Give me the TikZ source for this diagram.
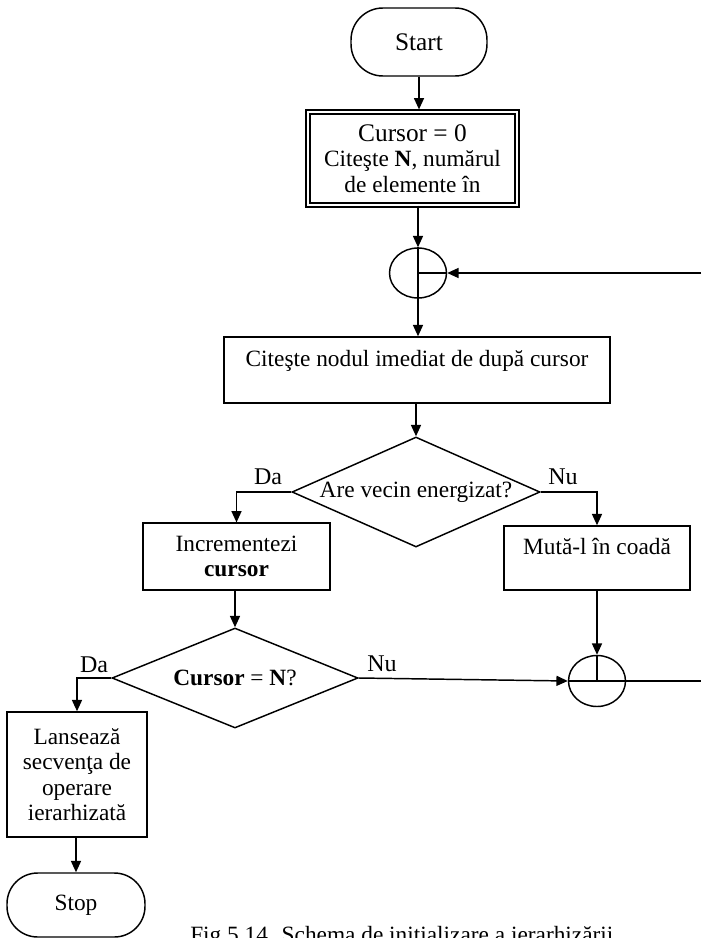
\documentclass[tikz,border=0pt]{standalone}
\usepackage{fontspec}
\setmainfont{Liberation Serif}
\usetikzlibrary{shapes.geometric,arrows.meta}
\begin{document}
\begin{tikzpicture}[x=0.75pt,y=-0.75pt,
  every node/.append style={font=\fontsize{17.5}{19}\selectfont},
  flow/.style={line width=1.1pt},
  arr/.style={flow,-{Triangle[length=8.5pt,width=7.5pt]}},
  terminal/.style={draw,line width=1.1pt,rounded corners=24pt,inner sep=0pt},
  dbox/.style={draw,double,double distance=2.2pt,line width=0.9pt,
    align=center,inner sep=0pt},
  procbox/.style={draw,line width=1.1pt,inner sep=0pt,align=center},
  topline/.style={text height=13pt,text depth=19pt},
  decision/.style={draw,diamond,line width=1.1pt,inner sep=0pt,aspect=2.25},
  conn/.style={draw,ellipse,line width=1.1pt,inner sep=0pt,
    minimum width=42.75pt,minimum height=37.5pt},
  lbl/.style={inner sep=0pt,font=\fontsize{18}{20}\selectfont}]

\useasboundingbox (0,0) rectangle (701,938);
\clip (0,0) rectangle (701,938);

% blocks
\node[terminal,minimum width=102pt,minimum height=51pt,
  font=\fontsize{19}{22}\selectfont] (start) at (419,42) {Start};
\node[dbox,minimum width=156.75pt,minimum height=69.75pt] (init) at (412.5,158.5)
  {{\fontsize{19}{19}\selectfont Cursor = 0}\\Citeşte \textbf{N}, numărul\\de elemente în};
\node[conn] (c1) at (418,273) {};
\node[procbox,topline,minimum width=289.5pt,minimum height=49.5pt] (read) at (417,370)
  {Citeşte nodul imediat de după cursor};
\node[decision,minimum width=186pt,minimum height=82.5pt] (d1) at (416,492)
  {Are vecin energizat?};
\node[procbox,minimum width=140pt,minimum height=50pt] (inc) at (236.5,556.5)
  {Incrementezi\\\textbf{cursor}};
\node[procbox,topline,minimum width=139.5pt,minimum height=48pt] (mut) at (597,558)
  {Mută-l în coadă};
\node[decision,minimum width=184.5pt,minimum height=75pt] (d2) at (235,678)
  {\textbf{Cursor} = \textbf{N}?};
\node[conn,minimum height=38.25pt] (c2) at (597,681) {};
\node[procbox,minimum width=105pt,minimum height=93.75pt] (lan) at (77,774.5)
  {Lansează\\secvenţa de\\operare\\ierarhizată};
\node[terminal,rounded corners=23pt,minimum width=103.5pt,minimum height=48pt]
  (stop) at (76,905) {Stop};

% branch labels
\node[lbl] (da1) at (268,477) {Da};
\node[lbl] (nu1) at (563,477) {Nu};
\node[lbl] (da2) at (94,665) {Da};
\node[lbl] (nu2) at (382,664) {Nu};

% off-page loop ends
\coordinate (loopin) at (701,273);
\coordinate (loopout) at (701,681);

% connectors
\draw[arr,shorten >=1.5pt] (start.south) -- (start.south |- init.north);
\draw[arr] (init.south -| c1.north) -- (c1.north);
\draw[flow] (c1.north) -- (c1.south);
\draw[arr] (c1.south) -- (c1.south |- read.north);
\draw[flow] (c1.center) -- (c1.east);
\draw[arr] (loopin) -- (c1.east);
\draw[arr] (read.south -| d1.north) -- (d1.north);
\draw[arr] (d1.west) -| (inc.north);
\draw[arr] (d1.east) -| (mut.north);
\draw[arr] (inc.south -| d2.north) -- (d2.north);
\draw[arr] (mut.south -| c2.north) -- (c2.north);
\draw[flow] (c2.north) -- (c2.center);
\draw[arr] (d2.east) -- (c2.west);
\draw[flow] (c2.west) -- (c2.east);
\draw[flow] (c2.east) -- (loopout);
\draw[arr] (d2.west) -| (lan.north);
\draw[arr] (lan.south -| stop.north) -- (stop.north);

% caption, cut by the lower edge of the page
\node[anchor=north west,inner sep=0pt] (cap) at (190,926)
  {Fig.5.14. Schema de iniţializare a ierarhizării};
\end{tikzpicture}
\end{document}
